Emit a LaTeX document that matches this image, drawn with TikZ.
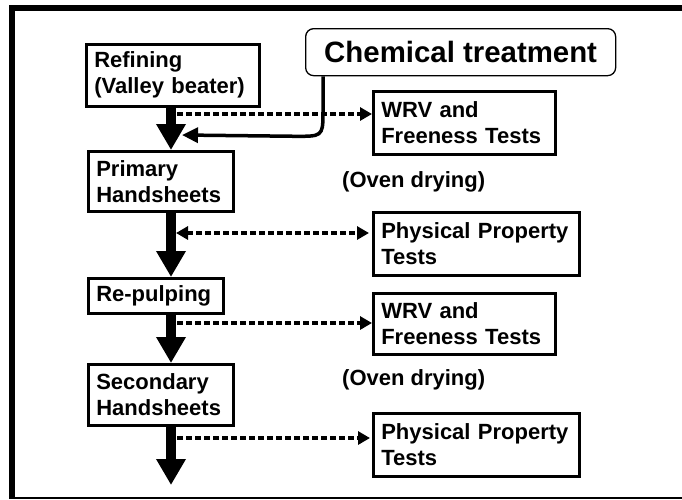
\documentclass[tikz,border=0pt]{standalone}
\usepackage{fontspec}
\setmainfont{Liberation Sans}
\usetikzlibrary{arrows.meta,calc}

\begin{document}
\begin{tikzpicture}[x=1pt,y=-1pt,font=\bfseries\fontsize{22}{26}\selectfont,
  stage/.style={draw,line width=2.6pt,anchor=north west,align=left,inner xsep=8pt,inner ysep=0pt},
  flow/.style={line width=10pt,-{Triangle[width=28pt,length=26pt]}},
  probe/.style={line width=4pt,dash pattern=on 6pt off 3pt,-{Triangle[width=13pt,length=12pt]}},
  feed/.style={line width=3.5pt,-{Triangle[width=15pt,length=16pt]}}]

\useasboundingbox (0,0) rectangle (682,499);

% frame
\fill (9,5) rectangle (682,11);
\fill (9,5) rectangle (15,499);
\fill (9,497) rectangle (682,498.5);

% process steps
\node[stage,text width=157pt,minimum height=62pt] (refining) at (85,43) {Refining\\(Valley beater)};
\node[stage,text width=129pt,minimum height=60pt] (primary) at (87,150) {Primary\\Handsheets};
\node[stage,text width=119pt,minimum height=35pt] (repulping) at (87,277) {Re-pulping};
\node[stage,text width=129pt,minimum height=61pt] (secondary) at (87,363) {Secondary\\Handsheets};

% tests
\node[stage,text width=166pt,minimum height=63pt] (wrv1) at (372,90) {WRV and\\Freeness Tests};
\node[stage,text width=190pt,minimum height=63pt] (physical1) at (372,211) {Physical Property\\Tests};
\node[stage,text width=166pt,minimum height=61pt] (wrv2) at (372,292) {WRV and\\Freeness Tests};
\node[stage,text width=190pt,minimum height=63pt] (physical2) at (372,412) {Physical Property\\Tests};

\node[anchor=west,inner sep=0pt] (oven1) at (342,182) {(Oven drying)};
\node[anchor=west,inner sep=0pt] (oven2) at (342,380) {(Oven drying)};

\node[draw,line width=1.3pt,rounded corners=8pt,anchor=north west,minimum width=310pt,minimum height=47pt,inner sep=0pt,
  font=\bfseries\fontsize{29.4}{32}\selectfont] (chem) at (305,28) {Chemical treatment};

% main line
\coordinate (axis) at (171,0);
\coordinate (out) at (171,485);
\draw[flow] (refining.south -| axis) -- (primary.north -| axis);
\draw[flow] (primary.south -| axis) -- (repulping.north -| axis);
\draw[flow] (repulping.south -| axis) -- (secondary.north -| axis);
\draw[flow] (secondary.south -| axis) -- (out);

% sampling
\coordinate (t1) at (177,114);
\coordinate (t2) at (176,233);
\coordinate (t3) at (177,323);
\coordinate (t4) at (177,438);
\draw[probe] (t1) -- (t1 -| wrv1.west);
\draw[probe,{Triangle[width=13pt,length=12pt]}-{Triangle[width=13pt,length=12pt]},shorten >=3pt] (t2) -- (t2 -| physical1.west);
\draw[probe] (t3) -- (t3 -| wrv2.west);
\draw[probe,shorten >=2pt] (t4) -- (t4 -| physical2.west);

% chemical addition
\coordinate (c0) at ($(chem.south west)+(18,0)$);
\coordinate (feedin) at (182,135);
\draw[feed] (c0) -- ++(0,38) .. controls +(0,22) and +(24,0) .. ++(-26,22) -- (feedin);

\end{tikzpicture}
\end{document}
